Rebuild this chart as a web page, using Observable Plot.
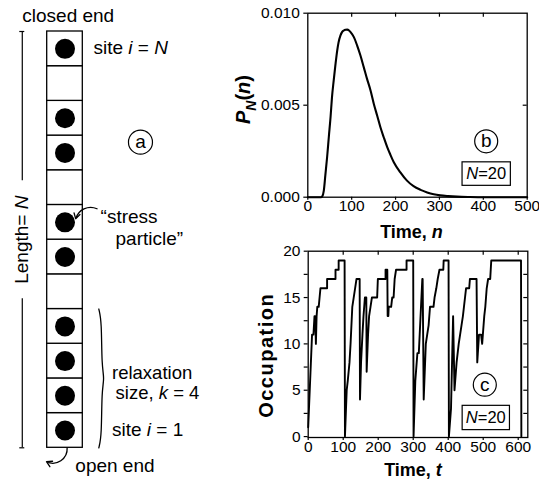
<!DOCTYPE html>
<html><head><meta charset="utf-8">
<script src="https://cdn.jsdelivr.net/npm/d3@7"></script>
<script src="https://cdn.jsdelivr.net/npm/@observablehq/plot@0.6"></script>
<style>
body{margin:0;background:#fff;}
#fig{position:relative;width:539px;height:479px;overflow:hidden;background:#fff;}
#fig > div{position:absolute;}
#fig svg{overflow:visible;background:transparent;}
</style></head><body><div id="fig"></div>
<script>
// ---------- data ----------
// panel (a): occupation of sites 1..12 (bottom to top)
const siteOccupied = [1,1,1,1,0,1,1,0,1,1,0,1];
const stressSite = 7;
const relaxSize = 4;
// panel (b): P_N(n)
const timeN = [0,30,33,36.5,40,44,48,52,55,59,63,67,70,74.5,78,82,86,90,94,97.5,105,112.5,120,127.5,135,143,150.5,158,165.5,173,181,188,196,211,226,241,257,272,287,302,320,340,370,400,500];
const probN = [0,0,0.00005,0.00036,0.0012,0.00217,0.0033,0.0044,0.0054,0.00634,0.0072,0.00797,0.0084,0.00879,0.00897,0.00906,0.0091,0.00911,0.00906,0.00897,0.0087,0.00824,0.0077,0.00707,0.00643,0.0058,0.00507,0.00444,0.0038,0.00326,0.00272,0.00232,0.0019,0.00135,0.0009,0.0006,0.0004,0.00026,0.00016,0.0001,0.00006,0.00003,0.00001,0,0];
// panel (c): occupation time series
const timeT = [0,11,15,18,20,22,24,26,30,35,54,54,78,78,87,87,104,105,
110,113,118,121,126,130,134,138,147,148,151,155,158,162,166,167,171,174,178,182,197,199,221,221,226,227,229,230,237,240,244,247,251,281,281,300,301,
306,308,312,316,326,327,330,336,340,344,348,358,361,366,370,375,386,387,401,402,
408,414,418,424,430,434,438,442,445,448,451,460,462,481,483,488,494,497,499,503,506,510,514,520,523,608,609];
const occupation = [1,11,11,13,13,10,13,14,14,16,16,17,17,18,18,19,19,0,
5,6,8,10,14,15,16,17,17,4,8,11,13,15,15,7,11,13,14,15,15,17,17,18,18,13,13,14,14,15,15,17,18,18,19,19,0,
6,7,9,9,17,17,4,10,11,12,14,14,15,16,17,18,18,19,19,0,
3,13,5,8,10,11,12,13,14,15,16,16,17,17,8,11,11,10,11,13,14,16,17,17,19,19,0];
const xTicksB = [0,100,200,300,400,500];
const yTicksB = [0,0.005,0.010];
const xTicksC = [0,100,200,300,400,500,600];
const yTicksC = [0,2.5,5,7.5,10,12.5,15,17.5,20];
const sizeN = "*N*=20";

// ---------- helpers ----------
const FONT = '"Liberation Sans", Arial, Helvetica, sans-serif';
const NS = "http://www.w3.org/2000/svg";
const fig = document.getElementById("fig");
function place(svg, left, top, w, h){
  const d = document.createElement("div");
  d.style.left = left+"px"; d.style.top = top+"px"; d.style.width = w+"px"; d.style.height = h+"px";
  d.appendChild(svg); fig.appendChild(d); return svg;
}
function richify(svg){
  svg.querySelectorAll("text").forEach(t=>{
    const s = t.textContent;
    if (!/\*|_\{/.test(s)) return;
    const fs = parseFloat(getComputedStyle(t).fontSize) || 16;
    while (t.firstChild) t.removeChild(t.firstChild);
    const parts = s.split(/(\*[^*]+\*|_\{[^}]*\})/).filter(p=>p.length);
    let shift = 0;
    for (const p of parts){
      const ts = document.createElementNS(NS,"tspan");
      let dy = 0;
      if (p.startsWith("*")){ ts.textContent = p.slice(1,-1); ts.setAttribute("font-style","italic"); }
      else if (p.startsWith("_{")){ ts.textContent = p.slice(2,-1); ts.setAttribute("font-style","italic"); ts.setAttribute("font-size", (fs*0.7).toFixed(1)); dy = 0.3*fs; }
      else ts.textContent = p;
      const d = dy - shift; if (d) ts.setAttribute("dy", d.toFixed(2)); shift = dy;
      t.appendChild(ts);
    }
  });
}
function boxText(svg, content, w, h){
  svg.querySelectorAll("text").forEach(t=>{
    if (t.textContent !== content) return;
    const b = t.getBBox();
    const r = document.createElementNS(NS,"rect");
    r.setAttribute("x", b.x + b.width/2 - w/2);
    r.setAttribute("y", b.y + b.height/2 - h/2 + 0.5);
    r.setAttribute("width", w); r.setAttribute("height", h);
    r.setAttribute("fill","none"); r.setAttribute("stroke","black"); r.setAttribute("stroke-width","1.2");
    if (t.getAttribute("transform")) r.setAttribute("transform", t.getAttribute("transform"));
    t.parentNode.insertBefore(r, t);
  });
}
const baseStyle = {fontFamily: FONT, fontSize: "15.5px", background: "transparent", overflow: "visible", color: "black"};

// ---------- panel (a) ----------
const sites = siteOccupied.map((o,i)=>({site:i+1, occ:o}));
const N = sites.length;
const bx0 = 1.45, bw = 0.16, bq = 0.35;
const braceMid = relaxSize/2;
const brace = [[bx0,relaxSize],[bx0+bw/2,relaxSize-bq],[bx0+bw/2,braceMid+bq],[bx0+bw,braceMid],[bx0+bw/2,braceMid-bq],[bx0+bw/2,bq],[bx0,0]];
const A = Plot.plot({
  width: 200, height: 479, margin: 0,
  x: {domain:[0,1], range:[46.7,82.3], axis:null},
  y: {domain:[0,N], range:[447.3,31], axis:null},
  style: baseStyle,
  marks: [
    Plot.rect(sites, {x1:0, x2:1, y1:d=>d.site-1, y2:d=>d.site, fill:"white", stroke:"black", strokeWidth:1.3}),
    Plot.dot(sites.filter(d=>d.occ), {x:0.5, y:d=>d.site-0.5, r:10, fill:"black", stroke:"none"}),
    // length bar
    Plot.ruleX([-0.70], {y1:N, y2:N/2+1.7, strokeWidth:1.2}),
    Plot.ruleX([-0.70], {y1:N/2-1.7, y2:0, strokeWidth:1.2}),
    Plot.ruleY([0,N], {x1:-0.77, x2:-0.63, strokeWidth:1.2}),
    Plot.text(["Length= *N*"], {x:-0.70, y:N/2, rotate:-90, lineAnchor:"middle", fontSize:19}),
    Plot.text(["closed end"], {x:-0.70, y:12.27, textAnchor:"start", lineAnchor:"bottom", fontSize:19}),
    Plot.text(["site *i* = *N*"], {x:1.30, y:11.36, textAnchor:"start", lineAnchor:"bottom", fontSize:19}),
    Plot.dot([0], {x:2.62, y:8.81, r:12, fill:"white", stroke:"black", strokeWidth:1.2}),
    Plot.text(["a"], {x:2.62, y:8.81, textAnchor:"middle", lineAnchor:"middle", fontSize:19}),
    Plot.text(["“stress"], {x:1.50, y:6.47, textAnchor:"start", lineAnchor:"bottom", fontSize:19}),
    Plot.text(["particle”"], {x:1.92, y:5.86, textAnchor:"start", lineAnchor:"bottom", fontSize:19}),
    Plot.arrow([stressSite], {x1:1.40, y1:s=>s-0.11, x2:0.80, y2:s=>s-0.40, bend:-50, headLength:7, strokeWidth:1.3}),
    Plot.line(brace, {curve:"basis", strokeWidth:1.3}),
    Plot.text(["relaxation"], {x:1.82, y:1.97, textAnchor:"start", lineAnchor:"bottom", fontSize:18.5}),
    Plot.text(["size, *k* = "+relaxSize], {x:1.92, y:1.42, textAnchor:"start", lineAnchor:"bottom", fontSize:18.5}),
    Plot.text(["site *i* = 1"], {x:1.82, y:0.35, textAnchor:"start", lineAnchor:"bottom", fontSize:19}),
    Plot.arrow([0], {x1:0.56, y1:0, x2:-0.02, y2:-0.40, bend:60, headLength:7, strokeWidth:1.3}),
    Plot.text(["open end"], {x:0.79, y:-0.70, textAnchor:"start", lineAnchor:"bottom", fontSize:19})
  ]
});
place(A, 0, 0, 200, 479); richify(A);

// ---------- panel (b) ----------
const pb = timeN.map((n,i)=>({n, p:probN[i]}));
const pxBx = 500/219.4, pxBy = 0.010/184;
const B = Plot.plot({
  width: 339, height: 242, marginLeft: 107.3, marginRight: 12.3, marginTop: 12.7, marginBottom: 45.3,
  x: {domain:[0,500]}, y: {domain:[0,0.010]},
  style: baseStyle,
  marks: [
    Plot.frame({strokeWidth:1.3}),
    Plot.axisX({ticks:xTicksB, tickSize:3, tickPadding:0, label:null, strokeWidth:1.2}),
    Plot.axisY({ticks:yTicksB, tickSize:4, tickPadding:4, tickFormat:".3f", label:null, strokeWidth:1.2}),
    Plot.ruleX(xTicksB.slice(1,-1), {y1:0.010, y2:0.010-4*pxBy, strokeWidth:1.2}),
    Plot.ruleY([0.005], {x1:500, x2:500-4*pxBx, strokeWidth:1.2}),
    Plot.line(pb, {x:"n", y:"p", curve:"monotone-x", strokeWidth:2.1}),
    Plot.text(["*P*_{N}(*n*)"], {frameAnchor:"left", rotate:-90, dx:-58.3, dy:-5.7, textAnchor:"middle", lineAnchor:"bottom", fontWeight:"bold", fontSize:20}),
    Plot.text(["Time, *n*"], {frameAnchor:"bottom", dx:-6, dy:40.3, textAnchor:"middle", lineAnchor:"bottom", fontWeight:"bold", fontSize:18}),
    Plot.dot([0], {frameAnchor:"bottom-right", dx:-41, dy:-55.9, r:11.5, fill:"white", stroke:"black", strokeWidth:1.2}),
    Plot.text(["b"], {frameAnchor:"bottom-right", dx:-41, dy:-55.9, textAnchor:"middle", lineAnchor:"middle", fontSize:19}),
    Plot.text([sizeN], {frameAnchor:"bottom-right", dx:-41, dy:-23.4, textAnchor:"middle", lineAnchor:"middle", fontSize:16.5})
  ]
});
place(B, 200, 0, 339, 242); richify(B); boxText(B, "N=20", 48.3, 23.5);

// ---------- panel (c) ----------
const pc = timeT.map((t,i)=>({t, o:occupation[i]}));
const xMaxC = 627.4;
const pxCx = xMaxC/219.6, pxCy = 20.1/186.3;
const C = Plot.plot({
  width: 339, height: 237, marginLeft: 107.7, marginRight: 11.7, marginTop: 8.7, marginBottom: 42,
  x: {domain:[0,xMaxC]}, y: {domain:[-0.1,20]},
  style: baseStyle,
  marks: [
    Plot.frame({strokeWidth:1.3}),
    Plot.axisX({ticks:xTicksC, tickSize:3, tickPadding:0, label:null, strokeWidth:1.2}),
    Plot.axisY({ticks:yTicksC, tickSize:4, tickPadding:3.7, tickFormat:d=>d%5===0?String(d):"", label:null, strokeWidth:1.2}),
    Plot.ruleX(xTicksC.slice(1), {y1:20, y2:20-4*pxCy, strokeWidth:1.2}),
    Plot.ruleY(yTicksC.slice(1,-1), {x1:xMaxC, x2:xMaxC-4*pxCx, strokeWidth:1.2}),
    Plot.line(pc, {x:"t", y:"o", strokeWidth:1.9}),
    Plot.text(["Occupation"], {frameAnchor:"left", rotate:-90, dx:-35.7, dy:11, textAnchor:"middle", lineAnchor:"bottom", fontWeight:"bold", fontSize:20}),
    Plot.text(["Time, *t*"], {frameAnchor:"bottom", dx:-5, dy:38, textAnchor:"middle", lineAnchor:"bottom", fontWeight:"bold", fontSize:18}),
    Plot.dot([0], {frameAnchor:"bottom-right", dx:-43, dy:-52.8, r:11.5, fill:"white", stroke:"black", strokeWidth:1.2}),
    Plot.text(["c"], {frameAnchor:"bottom-right", dx:-43, dy:-52.8, textAnchor:"middle", lineAnchor:"middle", fontSize:19}),
    Plot.text([sizeN], {frameAnchor:"bottom-right", dx:-42, dy:-19.8, textAnchor:"middle", lineAnchor:"middle", fontSize:16.5})
  ]
});
place(C, 200, 242, 339, 237); richify(C); boxText(C, "N=20", 47.3, 24.3);
C.querySelectorAll("text").forEach(t=>{ if (t.textContent==="Occupation") t.setAttribute("letter-spacing","1.5"); });
</script></body></html>
